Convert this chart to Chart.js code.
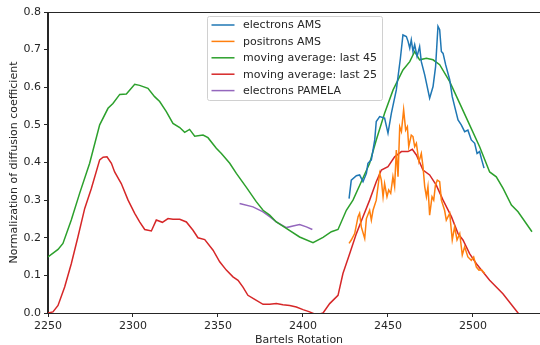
<!DOCTYPE html>
<html>
<head>
<meta charset="utf-8">
<script src="https://cdn.jsdelivr.net/npm/chart.js@4.4.0/dist/chart.umd.min.js"></script>
<style>
  html, body { margin: 0; padding: 0; background: #fff; overflow: hidden; }
  #wrap { width: 560px; height: 345px; }
</style>
</head>
<body>
<div id="wrap"><canvas id="chart" width="560" height="345"></canvas></div>
<script>
// electrons AMS
const eAmsX = [2427.1, 2428.4, 2431.4, 2433.3, 2435.3, 2437.3, 2438.2, 2440.2, 2442.2, 2443.1, 2445.1, 2448, 2450, 2452, 2454.9, 2457.3, 2458.8, 2460.8, 2461.8, 2462.8, 2463.7, 2464.7, 2465.7, 2467.1, 2468.6, 2469.6, 2471.6, 2474.5, 2476.5, 2478, 2479.4, 2480.4, 2481.4, 2482.4, 2483.9, 2486.3, 2487.8, 2489.2, 2491.2, 2493.1, 2495.1, 2497, 2499, 2501, 2502.4, 2503.9, 2504.9, 2506.5];
const eAmsY = [0.304, 0.353, 0.365, 0.367, 0.349, 0.371, 0.398, 0.407, 0.46, 0.509, 0.522, 0.518, 0.478, 0.531, 0.593, 0.677, 0.739, 0.735, 0.722, 0.704, 0.726, 0.695, 0.713, 0.682, 0.708, 0.668, 0.633, 0.571, 0.602, 0.655, 0.762, 0.753, 0.695, 0.69, 0.66, 0.62, 0.575, 0.549, 0.513, 0.5, 0.482, 0.486, 0.46, 0.451, 0.424, 0.429, 0.411, 0.385];

// positrons AMS
const pAmsX = [2427.1, 2428.4, 2430.4, 2432.4, 2433.3, 2434.3, 2436.3, 2437.3, 2439.2, 2440.2, 2441.2, 2443.1, 2445.1, 2446.1, 2447.1, 2448, 2449.4, 2450.4, 2451.6, 2452.9, 2453.9, 2454.9, 2455.9, 2456.9, 2457.9, 2459.2, 2460.4, 2461.4, 2462.2, 2463.7, 2464.7, 2465.7, 2466.7, 2468.2, 2469.6, 2470.6, 2471.6, 2472.6, 2473.5, 2474.5, 2475.9, 2476.9, 2477.9, 2479, 2480.4, 2481.4, 2483.3, 2484.3, 2486.3, 2487.8, 2489.2, 2490.6, 2492.2, 2493.7, 2495.1, 2497, 2499, 2500.4, 2502, 2503.5, 2505, 2506.9];
const pAmsY = [0.185, 0.194, 0.211, 0.256, 0.265, 0.229, 0.198, 0.251, 0.273, 0.247, 0.273, 0.3, 0.371, 0.353, 0.309, 0.344, 0.309, 0.327, 0.318, 0.362, 0.336, 0.433, 0.362, 0.495, 0.482, 0.54, 0.486, 0.495, 0.442, 0.473, 0.469, 0.442, 0.451, 0.402, 0.424, 0.389, 0.336, 0.309, 0.336, 0.26, 0.309, 0.3, 0.34, 0.353, 0.349, 0.3, 0.273, 0.247, 0.265, 0.194, 0.229, 0.194, 0.211, 0.154, 0.176, 0.149, 0.14, 0.149, 0.122, 0.114, 0.115, 0.105];

// moving average: last 45
const ma45X = [2250, 2255.9, 2258.8, 2263.7, 2268.6, 2274.5, 2280.4, 2285.3, 2288.2, 2292.2, 2296.1, 2301, 2303.9, 2308.8, 2312.7, 2315.7, 2319.6, 2323.5, 2327.5, 2330.4, 2333.3, 2336.3, 2341.2, 2344.1, 2349, 2352, 2356.9, 2360.8, 2366.7, 2372.5, 2376.5, 2380.4, 2384.3, 2390.2, 2398, 2405.9, 2411.8, 2416.7, 2420.6, 2425.5, 2429.4, 2434.3, 2439.2, 2443.1, 2448, 2453, 2458.8, 2462.8, 2465.7, 2468.6, 2472.6, 2476.5, 2480.4, 2486.3, 2492.2, 2498, 2503.9, 2509.8, 2513.7, 2517.7, 2522.6, 2526.5, 2534.7];
const ma45Y = [0.149, 0.169, 0.185, 0.247, 0.318, 0.398, 0.5, 0.544, 0.557, 0.581, 0.582, 0.608, 0.605, 0.597, 0.575, 0.562, 0.535, 0.504, 0.493, 0.48, 0.488, 0.47, 0.473, 0.466, 0.438, 0.424, 0.398, 0.371, 0.334, 0.296, 0.273, 0.26, 0.242, 0.225, 0.202, 0.187, 0.201, 0.216, 0.222, 0.273, 0.3, 0.349, 0.398, 0.46, 0.531, 0.593, 0.646, 0.668, 0.695, 0.673, 0.677, 0.673, 0.66, 0.615, 0.557, 0.5, 0.442, 0.375, 0.362, 0.331, 0.287, 0.269, 0.216];

// moving average: last 25
const ma25X = [2250, 2252.9, 2255.9, 2259.8, 2263.7, 2267.6, 2271.6, 2275.5, 2280.4, 2282.4, 2284.7, 2287.3, 2289.2, 2293.1, 2297.1, 2301, 2303.9, 2306.9, 2310.8, 2313.7, 2317.3, 2320.6, 2323.5, 2327.5, 2331.4, 2335.3, 2338.2, 2342.2, 2347.1, 2351, 2354.9, 2358.8, 2361.8, 2364.7, 2367.6, 2371.6, 2376.5, 2380.4, 2384.3, 2388.2, 2392.2, 2396.1, 2400, 2403.9, 2408, 2411.8, 2415.7, 2420.6, 2423.5, 2427.5, 2431.4, 2435.3, 2439.2, 2443.1, 2446.1, 2450, 2453.9, 2457.9, 2461.8, 2464.3, 2466.7, 2470.6, 2474.5, 2478.4, 2482.4, 2487.3, 2491.2, 2494.1, 2498, 2502, 2509.8, 2517.6, 2526.5, 2530];
const ma25Y = [0, 0.003, 0.02, 0.069, 0.131, 0.202, 0.278, 0.331, 0.407, 0.414, 0.415, 0.398, 0.375, 0.344, 0.3, 0.265, 0.242, 0.222, 0.218, 0.247, 0.241, 0.251, 0.249, 0.249, 0.242, 0.22, 0.2, 0.195, 0.167, 0.136, 0.114, 0.096, 0.087, 0.069, 0.047, 0.036, 0.023, 0.023, 0.025, 0.022, 0.02, 0.016, 0.009, 0.003, -0.005, 0, 0.025, 0.047, 0.105, 0.158, 0.211, 0.256, 0.3, 0.349, 0.38, 0.389, 0.415, 0.429, 0.429, 0.435, 0.42, 0.38, 0.367, 0.34, 0.3, 0.256, 0.211, 0.194, 0.158, 0.131, 0.087, 0.051, 0, -0.02];

// electrons PAMELA
const pamelaX = [2362.7, 2370.6, 2376.5, 2380.4, 2384.3, 2390.2, 2394.1, 2398, 2402, 2405.5];
const pamelaY = [0.291, 0.282, 0.269, 0.256, 0.242, 0.227, 0.231, 0.235, 0.229, 0.222];

const xTicks = [2250, 2300, 2350, 2400, 2450, 2500];
const yTicks = [0, 0.1, 0.2, 0.3, 0.4, 0.5, 0.6, 0.7, 0.8];

const toPoints = (xs, ys) => xs.map((x, i) => ({ x: x, y: ys[i] }));

const series = [
  { label: "electrons AMS", xs: eAmsX, ys: eAmsY, color: "#1f77b4" },
  { label: "positrons AMS", xs: pAmsX, ys: pAmsY, color: "#ff7f0e" },
  { label: "moving average: last 45", xs: ma45X, ys: ma45Y, color: "#2ca02c" },
  { label: "moving average: last 25", xs: ma25X, ys: ma25Y, color: "#d62728" },
  { label: "electrons PAMELA", xs: pamelaX, ys: pamelaY, color: "#9467bd" },
];

const FONT = "DejaVu Sans";
const FSIZE = 11;
const AXIS = "#262626";

// frame round the plot + matplotlib-like legend box
const framePlugin = {
  id: "frame",
  afterDraw(chart) {
    const { ctx, chartArea: a } = chart;
    ctx.save();
    ctx.strokeStyle = AXIS;
    ctx.lineWidth = 1;
    ctx.strokeRect(Math.round(a.left) - 0.5, Math.round(a.top) + 0.5, a.right - a.left, a.bottom - a.top);

    const bx = 207.5, by = 16.5, bw = 175, bh = 84;
    ctx.fillStyle = "rgba(255,255,255,0.85)";
    ctx.strokeStyle = "#d0d0d0";
    ctx.beginPath();
    ctx.roundRect(bx, by, bw, bh, 2);
    ctx.fill();
    ctx.stroke();

    ctx.font = FSIZE + "px '" + FONT + "'";
    ctx.textBaseline = "middle";
    chart.data.datasets.forEach((ds, i) => {
      const y = 25 + i * 16.4;
      ctx.strokeStyle = ds.borderColor;
      ctx.lineWidth = 1.5;
      ctx.beginPath();
      ctx.moveTo(211.5, y);
      ctx.lineTo(234.5, y);
      ctx.stroke();
      ctx.fillStyle = AXIS;
      ctx.fillText(ds.label, 243, y + 0.5);
    });
    ctx.restore();
  },
};

new Chart(document.getElementById("chart"), {
  type: "line",
  data: {
    datasets: series.map((s) => ({
      label: s.label,
      data: toPoints(s.xs, s.ys),
      borderColor: s.color,
      backgroundColor: s.color,
      borderWidth: 1.5,
      pointRadius: 0,
      tension: 0,
      fill: false,
    })),
  },
  options: {
    responsive: false,
    animation: false,
    layout: { padding: { top: 12, right: 10, left: 0, bottom: 0 } },
    plugins: { legend: { display: false }, tooltip: { enabled: false } },
    scales: {
      x: {
        type: "linear",
        min: 2250,
        max: 2545.3,
        afterBuildTicks: (scale) => { scale.ticks = xTicks.map((v) => ({ value: v })); },
        afterFit: (scale) => { scale.height = 32; },
        grid: { drawOnChartArea: false, drawTicks: true, tickLength: 4, color: AXIS },
        border: { color: AXIS },
        ticks: { color: AXIS, font: { family: FONT, size: FSIZE }, padding: 3, maxRotation: 0, callback: (v) => String(v) },
        title: { display: true, text: "Bartels Rotation", color: AXIS, font: { family: FONT, size: FSIZE }, padding: { top: 0, bottom: -2 } },
      },
      y: {
        min: 0,
        max: 0.8,
        afterBuildTicks: (scale) => { scale.ticks = yTicks.map((v) => ({ value: v })); },
        afterFit: (scale) => { scale.width = 48; },
        grid: { drawOnChartArea: false, drawTicks: true, tickLength: 4, color: AXIS },
        border: { color: AXIS },
        ticks: { color: AXIS, font: { family: FONT, size: FSIZE }, padding: 3, callback: (v) => v.toFixed(1) },
        title: { display: true, text: "Normalization of diffusion coefficient", color: AXIS, font: { family: FONT, size: FSIZE }, padding: { top: 8, bottom: 0 } },
      },
    },
  },
  plugins: [framePlugin],
});
</script>
</body>
</html>
